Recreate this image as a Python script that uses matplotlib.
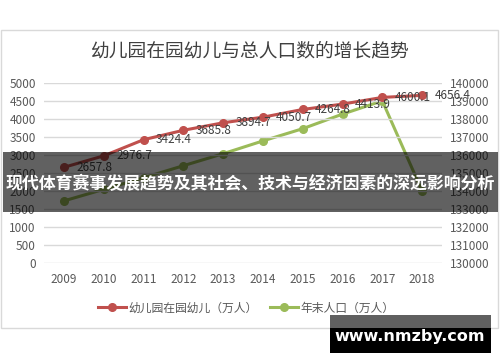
import matplotlib
matplotlib.use('Agg')
import matplotlib.pyplot as plt
from matplotlib.patches import Rectangle
from matplotlib.lines import Line2D

plt.rcParams['font.family'] = ['Noto Sans CJK SC', 'DejaVu Sans']

# data
years = ['2009', '2010', '2011', '2012', '2013', '2014', '2015', '2016', '2017', '2018']
kids = [2657.8, 2976.7, 3424.4, 3685.8, 3894.7, 4050.7, 4264.8, 4413.9, 4600.1, 4656.4]
population = [133450, 134091, 134735, 135404, 136072, 136782, 137462, 138271, 139008, 134000]
kids_label = '幼儿园在园幼儿（万人）'
pop_label = '年末人口（万人）'
title = '幼儿园在园幼儿与总人口数的增长趋势'
banner = '现代体育赛事发展趋势及其社会、技术与经济因素的深远影响分析'
watermark = 'www.nmzby.com'

W, H = 500, 362
red = '#C0504D'
green = '#9BBB59'
tick_color = '#595959'


def fx(px):
    return px / W


def fy(py):
    return 1 - py / H


fig = plt.figure(figsize=(5, 3.62), dpi=100)

# chart frame
fig.patches.append(Rectangle((fx(1), fy(328)), fx(497), (328 - 30) / H,
                             transform=fig.transFigure, fill=False,
                             edgecolor='#d9d9d9', linewidth=1))

ax = fig.add_axes([fx(44), fy(263), fx(442 - 44), (263 - 83) / H])
ax2 = ax.twinx()
x = list(range(len(years)))

ax.set_ylim(0, 5000)
ax.set_yticks(range(0, 5001, 500))
ax2.set_ylim(130000, 140000)
ax2.set_yticks(range(130000, 140001, 1000))
ax.set_xlim(-0.5, len(years) - 0.5)
ax.set_xticks(x)
ax.set_xticklabels(years)
ax.grid(axis='y', color='#d9d9d9', linewidth=1)
ax.set_axisbelow(True)
for a in (ax, ax2):
    for s in a.spines.values():
        s.set_visible(False)
    a.tick_params(length=0, labelsize=8.5, labelcolor=tick_color)
ax.tick_params(axis='y', pad=6)
ax.tick_params(axis='x', pad=7)
ax2.tick_params(axis='y', pad=6)

ax.plot(x, kids, color=red, linewidth=2.2, marker='o', markersize=5.5, zorder=3)
ax2.plot(x, population, color=green, linewidth=2.2, marker='o', markersize=5.5, zorder=3)
ax.set_zorder(ax2.get_zorder() + 1)
ax.patch.set_visible(False)

for xi, v in zip(x, kids):
    ax.annotate(f'{v:.1f}', (xi, v), xytext=(9, 0), textcoords='offset points',
                ha='left', va='center', fontsize=8.5, color='#404040')

fig.text(fx(249), fy(51), title, ha='center', va='center', fontsize=13.5, color='#404040')

handles = [Line2D([], [], color=red, linewidth=2.2, marker='o', markersize=5.5),
           Line2D([], [], color=green, linewidth=2.2, marker='o', markersize=5.5)]
fig.legend(handles, [kids_label, pop_label], loc='center', bbox_to_anchor=(fx(246), fy(308)),
           ncol=2, frameon=False, fontsize=8.5, labelcolor=tick_color,
           handlelength=2.4, handletextpad=0.2, columnspacing=1.0)

# overlay banner
fig.patches.append(Rectangle((fx(3), fy(212)), fx(495), 60 / H, transform=fig.transFigure,
                             facecolor='black', alpha=0.62, edgecolor='none', zorder=10))
fig.text(fx(250), fy(184), banner, ha='center', va='center', fontsize=12.2,
         fontweight='bold', color='white', zorder=11)

# watermark box
fig.patches.append(Rectangle((fx(330), fy(328)), fx(161), 13 / H, transform=fig.transFigure,
                             facecolor='#606060', edgecolor='none', zorder=10))
fig.patches.append(Rectangle((fx(330), fy(353)), fx(161), 25 / H, transform=fig.transFigure,
                             facecolor='black', edgecolor='none', zorder=10))
fig.text(fx(410), fy(336), watermark, ha='center', va='center', fontsize=11.5,
         fontweight='bold', color='white', family='DejaVu Sans', zorder=11)

fig.savefig('out.png', dpi=100)
